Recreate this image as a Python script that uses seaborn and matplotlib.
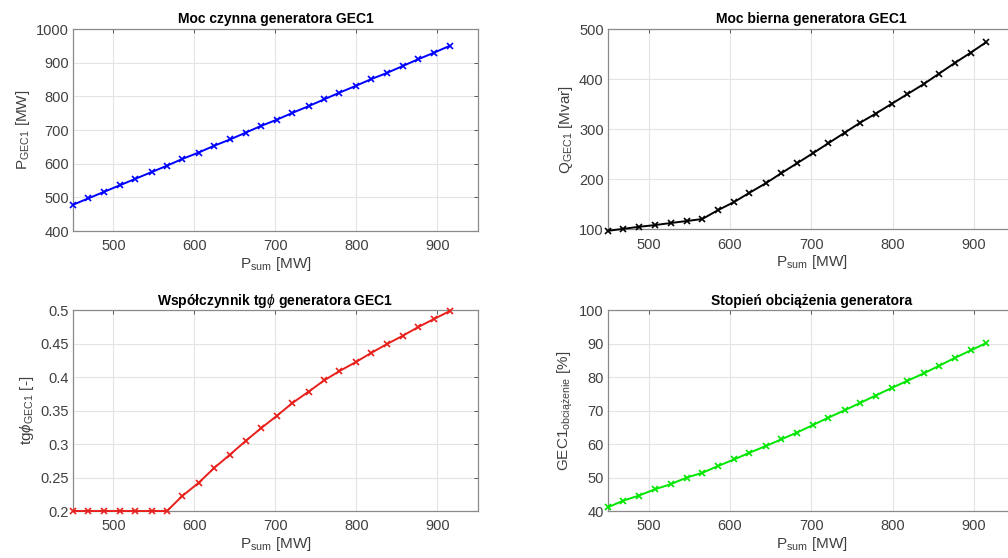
import pandas as pd
import matplotlib
matplotlib.use('Agg')
import matplotlib.pyplot as plt
import seaborn as sns

# P_sum values (x axis) shared by all four plots
p_sum = [450, 469, 488, 508, 527, 547, 566, 585, 605, 624, 644, 663, 682,
         702, 721, 741, 760, 779, 799, 818, 838, 857, 876, 896, 915]

# active power of GEC1
p_gec1 = [478, 497, 516, 536, 555, 575, 594, 614, 633, 653, 672, 692, 712,
          731, 751, 771, 791, 811, 831, 851, 870, 890, 910, 930, 950]

# reactive power of GEC1
q_gec1 = [97, 101, 105, 108.5, 112.6, 116.6, 120.6, 138, 154.5, 173, 192, 212, 231.5,
          252, 272, 293, 313, 331, 351, 370, 390, 411, 432, 453, 474]

# tg phi of GEC1
tg_phi = [0.2, 0.2, 0.2, 0.2, 0.2, 0.2, 0.2, 0.2225, 0.242, 0.264, 0.2844, 0.3045, 0.3235,
          0.3425, 0.3614, 0.3784, 0.395, 0.409, 0.4223, 0.436, 0.4496, 0.4616, 0.4746, 0.487, 0.4985]

# load degree of generator [%]
load_pct = [41.1, 43.1, 44.6, 46.5, 48.0, 50.0, 51.4, 53.4, 55.4, 57.4, 59.4, 61.4, 63.4,
            65.7, 67.9, 70.1, 72.3, 74.5, 76.8, 78.9, 81.1, 83.4, 85.7, 88.0, 90.2]

df = pd.DataFrame({'p_sum': p_sum, 'p_gec1': p_gec1, 'q_gec1': q_gec1,
                   'tg_phi': tg_phi, 'load_pct': load_pct})

sns.set_theme(style='whitegrid')
plt.rcParams['font.family'] = ['Liberation Sans', 'DejaVu Sans']
plt.rcParams['mathtext.fontset'] = 'custom'
plt.rcParams['mathtext.rm'] = 'Liberation Sans'
plt.rcParams['mathtext.it'] = 'Liberation Sans:italic'

fig = plt.figure(figsize=(10.08, 5.58), dpi=100)

# axes positions (left, bottom, width, height) - right column runs off the edge like the original
pos = [(0.0724, 0.586, 0.4018, 0.362),
       (0.603, 0.589, 0.4038, 0.359),
       (0.0724, 0.0842, 0.4018, 0.360),
       (0.603, 0.0842, 0.4038, 0.360)]

plots = [
    ('p_gec1', 'blue', 'Moc czynna generatora GEC1', r'P$_{\mathrm{GEC1}}$ [MW]',
     (400, 1000), range(400, 1001, 100)),
    ('q_gec1', 'black', 'Moc bierna generatora GEC1', r'Q$_{\mathrm{GEC1}}$ [Mvar]',
     (100, 500), range(100, 501, 100)),
    ('tg_phi', '#e8201c', r'Współczynnik tg$\phi$ generatora GEC1', r'tg$\phi_{\mathrm{GEC1}}$ [-]',
     (0.2, 0.5), [0.2, 0.25, 0.3, 0.35, 0.4, 0.45, 0.5]),
    ('load_pct', '#00e600', 'Stopień obciążenia generatora',
     r'GEC1$_{\mathrm{obciążenie}}$ [%]', (40, 100), range(40, 101, 10)),
]

for p, (col, color, title, ylab, ylim, yticks) in zip(pos, plots):
    ax = fig.add_axes(p)
    sns.lineplot(data=df, x='p_sum', y=col, ax=ax, color=color, marker='x',
                 markersize=5, markeredgewidth=1.2, markeredgecolor=color,
                 linewidth=1.4, clip_on=False, zorder=3)
    ax.set_xlim(450, 950)
    ax.set_xticks([500, 600, 700, 800, 900])
    ax.set_ylim(*ylim)
    ax.set_yticks(list(yticks))
    if col == 'tg_phi':
        ax.set_yticklabels(['0.2', '0.25', '0.3', '0.35', '0.4', '0.45', '0.5'])
    ax.set_title(title, fontsize=10, fontweight='bold', pad=4, color='black')
    ax.set_xlabel(r'P$_{\mathrm{sum}}$ [MW]', fontsize=11, color='#404040', labelpad=1)
    ax.set_ylabel(ylab, fontsize=11, color='#404040', labelpad=3)
    ax.tick_params(axis='both', labelsize=10.5, colors='#404040', direction='in',
                   length=3, width=0.6, top=True, right=True)
    ax.tick_params(axis='x', pad=6)
    ax.tick_params(axis='y', pad=3)
    ax.grid(True, color='#e4e4e4', linewidth=0.8)
    for s in ax.spines.values():
        s.set_color('#8a8a8a')
        s.set_linewidth(0.9)

plt.savefig('out.png', dpi=100)
